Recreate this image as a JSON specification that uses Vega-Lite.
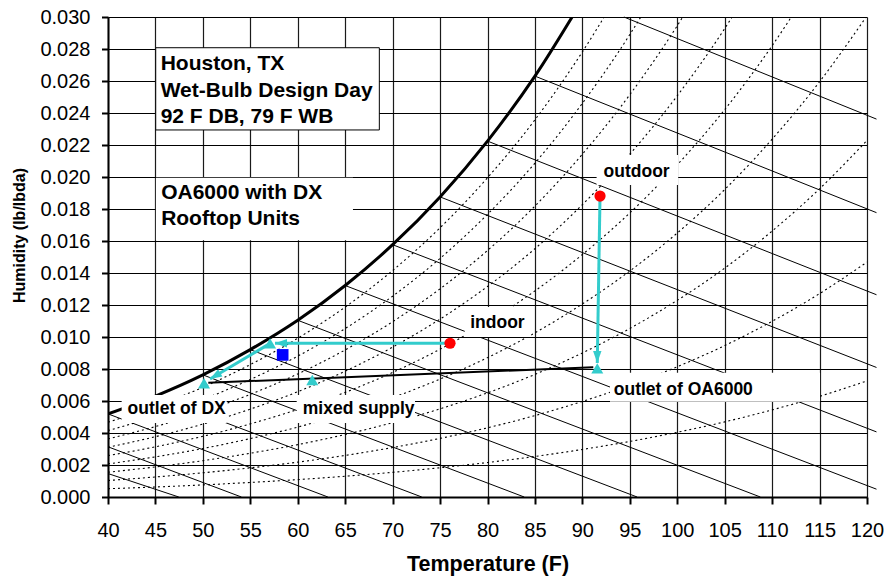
{
  "$schema": "https://vega.github.io/schema/vega-lite/v6.json",
  "width": 759,
  "height": 480,
  "autosize": {"type": "none"},
  "padding": {"left": 108, "top": 17, "right": 18, "bottom": 80},
  "background": "white",
  "config": {"view": {"stroke": null}, "font": "Liberation Sans"},
  "datasets": {
    "rh": [
      {"rh":10,"T":40,"W":0.000516},{"rh":10,"T":45,"W":0.000625},{"rh":10,"T":50,"W":0.000755},{"rh":10,"T":55,"W":0.000909},{"rh":10,"T":60,"W":0.001087},{"rh":10,"T":65,"W":0.001297},{"rh":10,"T":70,"W":0.001542},{"rh":10,"T":75,"W":0.001826},{"rh":10,"T":80,"W":0.002155},{"rh":10,"T":85,"W":0.002534},{"rh":10,"T":90,"W":0.002973},{"rh":10,"T":95,"W":0.003472},{"rh":10,"T":100,"W":0.004044},{"rh":10,"T":105,"W":0.004695},{"rh":10,"T":110,"W":0.005444},{"rh":10,"T":115,"W":0.006291},{"rh":10,"T":120,"W":0.007256},
      {"rh":20,"T":40,"W":0.001032},{"rh":20,"T":45,"W":0.001252},{"rh":20,"T":50,"W":0.001512},{"rh":20,"T":55,"W":0.00182},{"rh":20,"T":60,"W":0.002178},{"rh":20,"T":65,"W":0.002599},{"rh":20,"T":70,"W":0.003091},{"rh":20,"T":75,"W":0.003663},{"rh":20,"T":80,"W":0.004325},{"rh":20,"T":85,"W":0.005089},{"rh":20,"T":90,"W":0.005974},{"rh":20,"T":95,"W":0.006982},{"rh":20,"T":100,"W":0.00814},{"rh":20,"T":105,"W":0.009462},{"rh":20,"T":110,"W":0.010983},{"rh":20,"T":115,"W":0.012711},{"rh":20,"T":120,"W":0.014682},
      {"rh":30,"T":40,"W":0.00155},{"rh":30,"T":45,"W":0.001879},{"rh":30,"T":50,"W":0.00227},{"rh":30,"T":55,"W":0.002735},{"rh":30,"T":60,"W":0.003273},{"rh":30,"T":65,"W":0.003907},{"rh":30,"T":70,"W":0.004648},{"rh":30,"T":75,"W":0.00551},{"rh":30,"T":80,"W":0.006511},{"rh":30,"T":85,"W":0.007664},{"rh":30,"T":90,"W":0.009004},{"rh":30,"T":95,"W":0.010533},{"rh":30,"T":100,"W":0.012291},{"rh":30,"T":105,"W":0.014303},{"rh":30,"T":110,"W":0.016622},{"rh":30,"T":115,"W":0.019263},{"rh":30,"T":120,"W":0.022286},
      {"rh":40,"T":40,"W":0.002068},{"rh":40,"T":45,"W":0.002508},{"rh":40,"T":50,"W":0.00303},{"rh":40,"T":55,"W":0.003651},{"rh":40,"T":60,"W":0.004371},{"rh":40,"T":65,"W":0.00522},{"rh":40,"T":70,"W":0.006213},{"rh":40,"T":75,"W":0.007369},{"rh":40,"T":80,"W":0.008711},{"rh":40,"T":85,"W":0.010261},{"rh":40,"T":90,"W":0.012064},{"rh":40,"T":95,"W":0.014123},{"rh":40,"T":100,"W":0.016497},{"rh":40,"T":105,"W":0.019217},{"rh":40,"T":110,"W":0.022361},{"rh":40,"T":115,"W":0.025951},{"rh":40,"T":120,"W":0.030075},
      {"rh":50,"T":40,"W":0.002587},{"rh":50,"T":45,"W":0.003138},{"rh":50,"T":50,"W":0.003793},{"rh":50,"T":55,"W":0.004571},{"rh":50,"T":60,"W":0.005473},{"rh":50,"T":65,"W":0.006539},{"rh":50,"T":70,"W":0.007785},{"rh":50,"T":75,"W":0.009238},{"rh":50,"T":80,"W":0.010927},{"rh":50,"T":85,"W":0.01288},{"rh":50,"T":90,"W":0.015154},{"rh":50,"T":95,"W":0.017755},{"rh":50,"T":100,"W":0.020758},{"rh":50,"T":105,"W":0.024209},{"rh":50,"T":110,"W":0.028205},{"rh":50,"T":115,"W":0.032782},
      {"rh":60,"T":40,"W":0.003107},{"rh":60,"T":45,"W":0.00377},{"rh":60,"T":50,"W":0.004557},{"rh":60,"T":55,"W":0.005493},{"rh":60,"T":60,"W":0.00658},{"rh":60,"T":65,"W":0.007863},{"rh":60,"T":70,"W":0.009366},{"rh":60,"T":75,"W":0.011119},{"rh":60,"T":80,"W":0.013159},{"rh":60,"T":85,"W":0.01552},{"rh":60,"T":90,"W":0.018273},{"rh":60,"T":95,"W":0.021428},{"rh":60,"T":100,"W":0.025077},{"rh":60,"T":105,"W":0.029278},{"rh":60,"T":110,"W":0.034156},
      {"rh":70,"T":40,"W":0.003628},{"rh":70,"T":45,"W":0.004403},{"rh":70,"T":50,"W":0.005323},{"rh":70,"T":55,"W":0.006418},{"rh":70,"T":60,"W":0.00769},{"rh":70,"T":65,"W":0.009193},{"rh":70,"T":70,"W":0.010954},{"rh":70,"T":75,"W":0.013011},{"rh":70,"T":80,"W":0.015406},{"rh":70,"T":85,"W":0.018183},{"rh":70,"T":90,"W":0.021424},{"rh":70,"T":95,"W":0.025144},{"rh":70,"T":100,"W":0.029455},{"rh":70,"T":105,"W":0.034428},
      {"rh":80,"T":40,"W":0.004149},{"rh":80,"T":45,"W":0.005037},{"rh":80,"T":50,"W":0.00609},{"rh":80,"T":55,"W":0.007346},{"rh":80,"T":60,"W":0.008804},{"rh":80,"T":65,"W":0.010529},{"rh":80,"T":70,"W":0.012551},{"rh":80,"T":75,"W":0.014914},{"rh":80,"T":80,"W":0.01767},{"rh":80,"T":85,"W":0.020867},{"rh":80,"T":90,"W":0.024606},{"rh":80,"T":95,"W":0.028903},{"rh":80,"T":100,"W":0.033892},
      {"rh":90,"T":40,"W":0.004672},{"rh":90,"T":45,"W":0.005672},{"rh":90,"T":50,"W":0.00686},{"rh":90,"T":55,"W":0.008276},{"rh":90,"T":60,"W":0.009922},{"rh":90,"T":65,"W":0.01187},{"rh":90,"T":70,"W":0.014155},{"rh":90,"T":75,"W":0.016829},{"rh":90,"T":80,"W":0.019949},{"rh":90,"T":85,"W":0.023574},{"rh":90,"T":90,"W":0.027819},{"rh":90,"T":95,"W":0.032705}
    ],
    "sat": [
      {"T":40,"W":0.005195},{"T":45,"W":0.006309},{"T":50,"W":0.007632},{"T":55,"W":0.00921},{"T":60,"W":0.011044},{"T":65,"W":0.013217},{"T":70,"W":0.015768},{"T":75,"W":0.018755},{"T":80,"W":0.022245},{"T":85,"W":0.026305},{"T":90,"W":0.031064}
    ],
    "wb": [
      {"twb":30,"T":40,"W":0.001464},{"twb":30,"T":47.46,"W":0},
      {"twb":35,"T":40,"W":0.003137},{"twb":35,"T":54.06,"W":0},
      {"twb":40,"T":40,"W":0.005195},{"twb":40,"T":63.18,"W":0},
      {"twb":45,"T":45,"W":0.006309},{"twb":45,"T":73.07,"W":0},
      {"twb":50,"T":50,"W":0.007632},{"twb":50,"T":83.87,"W":0},
      {"twb":55,"T":55,"W":0.00921},{"twb":55,"T":95.77,"W":0},
      {"twb":60,"T":60,"W":0.011044},{"twb":60,"T":108.76,"W":0},
      {"twb":65,"T":65,"W":0.013217},{"twb":65,"T":121,"W":0.000489},
      {"twb":70,"T":70,"W":0.015768},{"twb":70,"T":121,"W":0.004069},
      {"twb":75,"T":75,"W":0.018755},{"twb":75,"T":121,"W":0.008096},
      {"twb":80,"T":80,"W":0.022245},{"twb":80,"T":121,"W":0.012641},
      {"twb":85,"T":85,"W":0.026305},{"twb":85,"T":121,"W":0.017771},
      {"twb":90,"T":94.38,"W":0.03},{"twb":90,"T":121,"W":0.023619}
    ],
    "boxes": [
      {"box":"outdoor","T":91.5,"W":0.0195,"T2":100.1,"W2":0.02138},
      {"box":"indoor","T":77.6,"W":0.01,"T2":84.6,"W2":0.01188},
      {"box":"outlet of DX","T":41.44,"W":0.004625,"T2":52.51,"W2":0.006375},
      {"box":"mixed supply","T":59.89,"W":0.004625,"T2":72.36,"W2":0.006375},
      {"box":"outlet of OA6000","T":92.91,"W":0.00596,"T2":115.05,"W2":0.00777},
      {"box":"OA6000 note","T":45.05,"W":0.01605,"T2":65.82,"W2":0.01995}
    ],
    "notebox": [
      {"T":45.03,"W":0.02294,"T2":68.6,"W2":0.02808}
    ],
    "mix": [
      {"T":50.57,"W":0.00714},{"T":91.15,"W":0.00811}
    ],
    "flow": [
      {"seg":"A","T":91.86,"W":0.01881},{"seg":"A","T":91.57,"W":0.00838},
      {"seg":"B","T":76.05,"W":0.00961},{"seg":"B","T":57.6,"W":0.00961},
      {"seg":"C","T":57.08,"W":0.0096},{"seg":"C","T":50.75,"W":0.007375}
    ],
    "arrows": [
      {"dir":"down","T":91.57,"W":0.008375},
      {"dir":"left","T":57.6,"W":0.00961},
      {"dir":"downleft","T":50.75,"W":0.007375}
    ],
    "tri": [
      {"name":"outlet of DX","T":50.12,"W":0.00711},
      {"name":"mixed supply","T":61.53,"W":0.00731},
      {"name":"after DX reheat","T":57.08,"W":0.0096},
      {"name":"outlet of OA6000","T":91.57,"W":0.00804}
    ],
    "states": [
      {"name":"outdoor","T":91.86,"W":0.01881},
      {"name":"indoor","T":76.05,"W":0.00961}
    ],
    "supply": [
      {"name":"supply","T":58.41,"W":0.00888}
    ],
    "labels": [
      {"text":"outdoor","T":95.72,"W":0.02002},
      {"text":"indoor","T":81.05,"W":0.01054},
      {"text":"outlet of DX","T":47.24,"W":0.00519},
      {"text":"mixed supply","T":66.42,"W":0.00519},
      {"text":"outlet of OA6000","T":100.64,"W":0.006375}
    ],
    "notes": [
      {"text":"Houston, TX","T":45.55,"W":0.02669},
      {"text":"Wet-Bulb Design Day","T":45.55,"W":0.02502},
      {"text":"92 F DB, 79 F WB","T":45.55,"W":0.02336},
      {"text":"OA6000 with DX","T":45.6,"W":0.01861},
      {"text":"Rooftop Units","T":45.6,"W":0.017}
    ]
  },
  "encoding": {
    "x": {
      "field": "T", "type": "quantitative",
      "scale": {"domain": [40, 120], "nice": false, "zero": false},
      "axis": {
        "title": "Temperature (F)",
        "values": [40,45,50,55,60,65,70,75,80,85,90,95,100,105,110,115,120],
        "grid": true, "gridColor": "#1a1a1a", "gridWidth": 1.2,
        "domainColor": "#000000", "domainWidth": 2,
        "tickColor": "#000000", "tickWidth": 2, "tickSize": 7,
        "labelFont": "Liberation Sans", "labelFontSize": 20, "labelColor": "#000000",
        "labelPadding": 16, "labelFlush": false, "labelOverlap": false,
        "titleFont": "Liberation Sans", "titleFontSize": 21.5, "titleFontWeight": "bold",
        "titleColor": "#000000", "titleY": 73.7, "titleBaseline": "alphabetic"
      }
    },
    "y": {
      "field": "W", "type": "quantitative",
      "scale": {"domain": [0, 0.03], "nice": false, "zero": false},
      "axis": {
        "title": "Humidity (lb/lbda)",
        "values": [0,0.002,0.004,0.006,0.008,0.01,0.012,0.014,0.016,0.018,0.02,0.022,0.024,0.026,0.028,0.03],
        "format": ".3f",
        "grid": true, "gridColor": "#000000", "gridWidth": 1,
        "domainColor": "#000000", "domainWidth": 2,
        "tickColor": "#000000", "tickWidth": 2, "tickSize": 6.5,
        "labelFont": "Liberation Sans", "labelFontSize": 20, "labelColor": "#000000",
        "labelPadding": 11.5, "labelFlush": false, "labelOverlap": false,
        "titleFont": "Liberation Sans", "titleFontSize": 16, "titleFontWeight": "bold",
        "titleColor": "#000000", "titleX": -81, "titleY": 218
      }
    }
  },
  "layer": [
    {
      "data": {"name": "rh"},
      "mark": {"type": "line", "color": "#000000", "strokeWidth": 1.1, "strokeDash": [2, 3], "interpolate": "monotone", "clip": true},
      "encoding": {"detail": {"field": "rh", "type": "nominal"}}
    },
    {
      "data": {"name": "wb"},
      "mark": {"type": "line", "color": "#000000", "strokeWidth": 1},
      "encoding": {"detail": {"field": "twb", "type": "nominal"}}
    },
    {
      "data": {"name": "sat"},
      "mark": {"type": "line", "color": "#000000", "strokeWidth": 3, "interpolate": "monotone", "clip": true},
      "encoding": {}
    },
    {
      "data": {"name": "boxes"},
      "mark": {"type": "rect", "color": "#ffffff", "strokeWidth": 0},
      "encoding": {"x2": {"field": "T2"}, "y2": {"field": "W2"}}
    },
    {
      "data": {"name": "notebox"},
      "mark": {"type": "rect", "fill": "#ffffff", "stroke": "#000000", "strokeWidth": 1},
      "encoding": {"x2": {"field": "T2"}, "y2": {"field": "W2"}}
    },
    {
      "data": {"name": "mix"},
      "mark": {"type": "line", "color": "#000000", "strokeWidth": 2},
      "encoding": {}
    },
    {
      "data": {"name": "flow"},
      "mark": {"type": "line", "color": "#33CCCC", "strokeWidth": 3},
      "encoding": {"detail": {"field": "seg", "type": "nominal"}}
    },
    {
      "data": {"name": "arrows"},
      "transform": [{"filter": "datum.dir === 'down'"}],
      "mark": {"type": "point", "shape": "M0,0L-0.35,-1L0.35,-1Z", "size": 576, "filled": true, "color": "#33CCCC", "opacity": 1, "angle": 0},
      "encoding": {}
    },
    {
      "data": {"name": "arrows"},
      "transform": [{"filter": "datum.dir === 'left'"}],
      "mark": {"type": "point", "shape": "M0,0L-0.35,-1L0.35,-1Z", "size": 576, "filled": true, "color": "#33CCCC", "opacity": 1, "angle": 90},
      "encoding": {}
    },
    {
      "data": {"name": "arrows"},
      "transform": [{"filter": "datum.dir === 'downleft'"}],
      "mark": {"type": "point", "shape": "M0,0L-0.35,-1L0.35,-1Z", "size": 576, "filled": true, "color": "#33CCCC", "opacity": 1, "angle": 59},
      "encoding": {}
    },
    {
      "data": {"name": "tri"},
      "mark": {"type": "point", "shape": "triangle-up", "size": 144, "filled": true, "color": "#33CCCC", "opacity": 1},
      "encoding": {}
    },
    {
      "data": {"name": "states"},
      "mark": {"type": "point", "shape": "circle", "size": 125, "filled": true, "color": "#FF0000", "opacity": 1},
      "encoding": {}
    },
    {
      "data": {"name": "supply"},
      "mark": {"type": "point", "shape": "square", "size": 136, "filled": true, "color": "#0000FF", "opacity": 1},
      "encoding": {}
    },
    {
      "data": {"name": "labels"},
      "mark": {"type": "text", "font": "Liberation Sans", "fontSize": 17.5, "fontWeight": "bold", "color": "#000000", "align": "center", "baseline": "alphabetic"},
      "encoding": {"text": {"field": "text"}}
    },
    {
      "data": {"name": "notes"},
      "mark": {"type": "text", "font": "Liberation Sans", "fontSize": 21, "fontWeight": "bold", "color": "#000000", "align": "left", "baseline": "alphabetic"},
      "encoding": {"text": {"field": "text"}}
    }
  ]
}
